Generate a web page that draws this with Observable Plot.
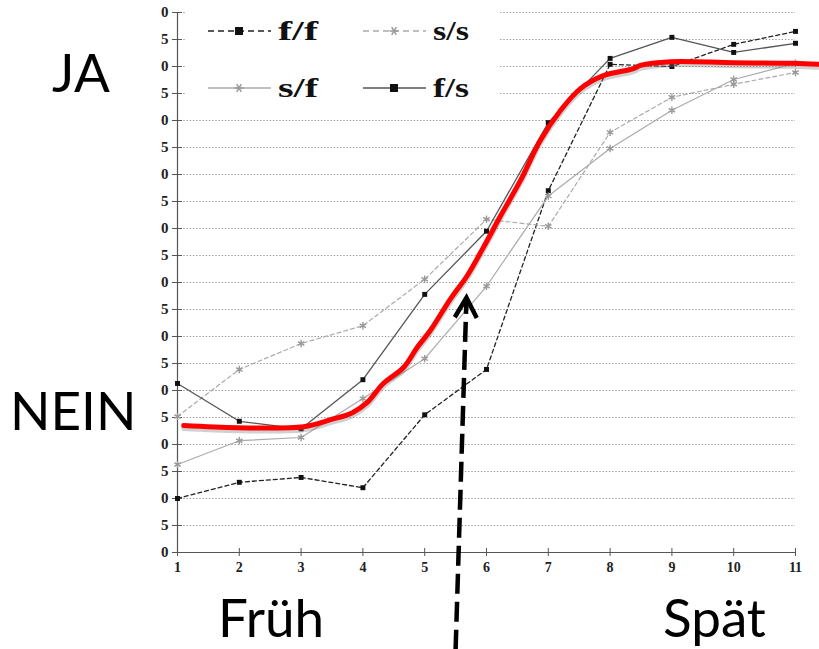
<!DOCTYPE html>
<html>
<head>
<meta charset="utf-8">
<script src="https://cdn.jsdelivr.net/npm/d3@7"></script>
<script src="https://cdn.jsdelivr.net/npm/@observablehq/plot@0.6"></script>
<style>
  html, body { margin: 0; padding: 0; background: #fff; }
  #wrap { position: relative; width: 819px; height: 649px; overflow: hidden; }
  #wrap svg { position: absolute; left: 0; top: 0; }
</style>
</head>
<body>
<div id="wrap"></div>
<script>
// ---- data ----
const xs = [1, 2, 3, 4, 5, 6, 7, 8, 9, 10, 11];
const xTickLabels = ["1", "2", "3", "4", "5", "6", "7", "8", "9", "10", "11"];
const yTicks = [0, 5, 10, 15, 20, 25, 30, 35, 40, 45, 50, 55, 60, 65, 70, 75, 80, 85, 90, 95, 100];
const gridVals = [5, 10, 15, 20, 25, 30, 35, 40, 45, 50, 55, 60, 65, 70, 75, 80, 85, 90, 95, 100];
const seriesNames = ["f/f", "s/s", "s/f", "f/s"];
const ff = [10.0, 13.0, 13.9, 12.0, 25.5, 33.9, 67.0, 90.4, 90.0, 94.1, 96.5];
const ss = [25.2, 33.9, 38.7, 42.0, 50.6, 61.7, 60.4, 77.8, 84.3, 86.7, 88.9];
const sf = [16.3, 20.7, 21.3, 28.5, 35.9, 49.3, 66.0, 74.8, 81.9, 87.6, 90.6];
const fs = [31.3, 24.3, 22.9, 32.0, 47.8, 59.5, 79.6, 91.5, 95.4, 92.6, 94.3];
// hand-drawn red curve
const redX = [1.10, 1.97, 3.04, 3.48, 3.83, 4.07, 4.33, 4.66, 4.88, 5.09, 5.42, 5.69, 5.95, 6.23, 6.55, 6.87, 7.20, 7.52, 7.89, 8.38, 8.49, 8.98, 10.0, 10.97, 11.39];
const redY = [23.5, 23.1, 23.3, 24.6, 25.9, 27.8, 31.3, 34.3, 38.0, 41.1, 47.0, 51.3, 56.5, 62.4, 68.9, 76.3, 81.9, 85.9, 88.3, 89.6, 90.2, 90.9, 90.7, 90.6, 90.4];
// dashed arrow (tail, tip)
const arrowX = [5.50, 5.676];
const arrowY = [-18.0, 47.2];
const sideLabels = ["JA", "NEIN", "Früh", "Spät"];

// ---- styles ----
const styles = {
  "f/f": {stroke: "#222", dash: "4,3", mark: "square", mfill: "#111", width: 1.3},
  "s/s": {stroke: "#aaa", dash: "4,3", mark: "asterisk", mfill: "#999", width: 1.2},
  "s/f": {stroke: "#aaa", dash: null, mark: "asterisk", mfill: "#999", width: 1.2},
  "f/s": {stroke: "#555", dash: null, mark: "square", mfill: "#111", width: 1.3}
};
const valuesBy = {"f/f": ff, "s/s": ss, "s/f": sf, "f/s": fs};
const rows = seriesNames.flatMap(s => xs.map((x, i) => ({s, x, y: valuesBy[s][i]})));
const red = redX.map((x, i) => ({x, y: redY[i]}));

const chevron = {
  draw(context) {
    context.moveTo(-11, 20);
    context.lineTo(0, 0);
    context.lineTo(11, 20);
  }
};

const marks = [
  Plot.ruleY(gridVals, {stroke: "#8a8a8a", strokeWidth: 1, strokeDasharray: "1.2,2"}),
  Plot.ruleX([1], {stroke: "#555", strokeWidth: 1.2}),
  Plot.ruleY([0], {stroke: "#555", strokeWidth: 1.2}),
  Plot.ruleY(yTicks, {x1: 1, x2: 1, insetLeft: -5, insetRight: -5, stroke: "#555", strokeWidth: 1}),
  Plot.ruleX(xs, {y1: 0, y2: 0, insetTop: -4, insetBottom: -4, stroke: "#555", strokeWidth: 1}),
  Plot.axisY({ticks: yTicks, tickSize: 0, tickPadding: 9, tickFormat: d => String(d).slice(-1), label: null,
    fontSize: 15, fontWeight: "bold", fontFamily: "Liberation Serif", fill: "#222"}),
  Plot.axisX({ticks: xs, tickSize: 0, tickPadding: 10, tickFormat: (d, i) => xTickLabels[i], label: null,
    fontSize: 14, fontWeight: "bold", fontFamily: "Liberation Serif", fill: "#222"})
];
for (const s of seriesNames) {
  const st = styles[s];
  const data = rows.filter(r => r.s === s);
  marks.push(Plot.line(data, {x: "x", y: "y", stroke: st.stroke, strokeWidth: st.width, strokeDasharray: st.dash}));
}
for (const s of seriesNames) {
  const st = styles[s];
  const data = rows.filter(r => r.s === s);
  if (st.mark === "square") {
    marks.push(Plot.dot(data, {x: "x", y: "y", symbol: "square", r: 2.8, fill: st.mfill, stroke: "none"}));
  } else {
    marks.push(Plot.dot(data, {x: "x", y: "y", symbol: "asterisk", r: 3.5, stroke: st.mfill, strokeWidth: 1.4}));
  }
}
marks.push(
  Plot.line(red, {x: "x", y: "y", curve: "catmull-rom", stroke: "#777", strokeOpacity: 0.35, strokeWidth: 5, dy: 3}),
  Plot.line(red, {x: "x", y: "y", curve: "catmull-rom", stroke: "#ff0000", strokeWidth: 5, strokeLinecap: "round", strokeLinejoin: "round"}),
  Plot.link([0], {x1: () => arrowX[0], y1: () => arrowY[0], x2: () => arrowX[0] + (arrowX[1] - arrowX[0]) * 0.995, y2: () => arrowY[0] + (arrowY[1] - arrowY[0]) * 0.995,
    stroke: "#000", strokeWidth: 4.5, strokeDasharray: "20,8"}),
  Plot.dot([0], {x: () => arrowX[1], y: () => arrowY[1], symbol: chevron, rotate: 2, fill: "none",
    stroke: "#000", strokeWidth: 4.5, strokeLinejoin: "miter", strokeLinecap: "butt"})
);

const chart = Plot.plot({
  width: 819, height: 649,
  marginLeft: 177, marginRight: 24, marginTop: 12, marginBottom: 97,
  x: {domain: [1, 11]},
  y: {domain: [0, 100]},
  style: {background: "#fff", overflow: "visible"},
  marks
});
const wrap = document.getElementById("wrap");
wrap.appendChild(chart);

// ---- overlay: legend + side labels ----
const ov = d3.select(wrap).append("svg").attr("width", 819).attr("height", 649)
  .style("pointer-events", "none");
ov.append("rect").attr("x", 186).attr("y", 0).attr("width", 314).attr("height", 106).attr("fill", "#fff");
const legPos = {"f/f": [208, 31], "s/s": [363, 31], "s/f": [208, 88], "f/s": [363, 88]};
const legTextW = {"f/f": 40, "s/s": 36, "s/f": 40, "f/s": 36};
for (const s of seriesNames) {
  const st = styles[s];
  const [lx, ly] = legPos[s];
  ov.append("line").attr("x1", lx).attr("x2", lx + 63).attr("y1", ly).attr("y2", ly)
    .attr("stroke", st.stroke).attr("stroke-width", 1.6).attr("stroke-dasharray", st.dash ? "6,4" : null);
  const mx = lx + 31;
  if (st.mark === "square") {
    ov.append("rect").attr("x", mx - 4).attr("y", ly - 4).attr("width", 8).attr("height", 8).attr("fill", st.mfill);
  } else {
    const g = ov.append("g").attr("stroke", st.mfill).attr("stroke-width", 1.5);
    for (const a of [0, 60, 120]) {
      const r = a * Math.PI / 180;
      g.append("line").attr("x1", mx - 4.5 * Math.cos(r)).attr("y1", ly - 4.5 * Math.sin(r))
        .attr("x2", mx + 4.5 * Math.cos(r)).attr("y2", ly + 4.5 * Math.sin(r));
    }
  }
  ov.append("text").attr("x", lx + 70).attr("y", ly + 9).text(s)
    .attr("textLength", legTextW[s]).attr("lengthAdjust", "spacingAndGlyphs")
    .attr("font-family", "Liberation Serif").attr("font-weight", "bold").attr("font-size", 28).attr("fill", "#111");
}
const sidePos = [[52, 92], [10, 430], [218, 637], [663, 637]];
sideLabels.forEach((t, i) => {
  ov.append("text").attr("x", sidePos[i][0]).attr("y", sidePos[i][1]).text(t)
    .attr("font-family", "Lato").attr("font-size", 53).attr("fill", "#000");
});
</script>
</body>
</html>
